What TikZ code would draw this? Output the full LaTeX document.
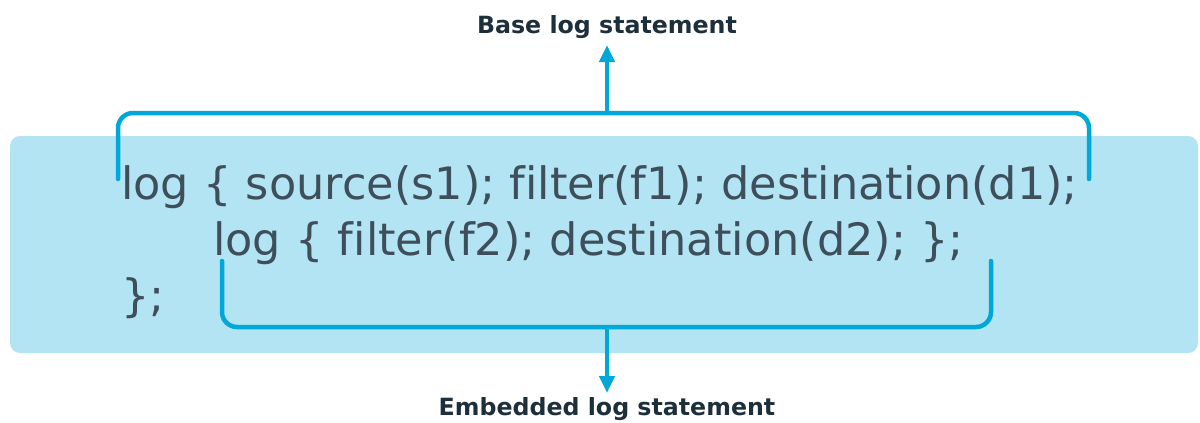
\documentclass[tikz,border=0pt]{standalone}
\usepackage{fontspec}
\setmainfont[Ligatures=NoCommon]{DejaVu Sans}
\usetikzlibrary{arrows.meta}
\definecolor{panelblue}{HTML}{B3E4F3}
\definecolor{bracketblue}{HTML}{00A8DA}
\definecolor{codegray}{HTML}{3E4F5B}
\definecolor{titledark}{HTML}{1E2F3C}
\tikzset{
  codeline/.style={anchor=base west, inner sep=0pt, text=codegray,
    font=\fontsize{44.6}{52}\selectfont},
  caption/.style={anchor=base, inner sep=0pt, text=titledark,
    font=\fontsize{23.7}{28}\selectfont\bfseries},
  bracket/.style={draw=bracketblue, line width=4.5pt, line cap=round,
    rounded corners=15pt},
  pointer/.style={draw=bracketblue, line width=4.5pt,
    -{Triangle[length=17pt, width=15pt]}},
}
\begin{document}
\begin{tikzpicture}[x=1pt, y=-1pt]
  \useasboundingbox (0,0) rectangle (1200,423);
  % code panel
  \fill[panelblue, rounded corners=10pt] (10,136) rectangle (1198,353);

  % code
  \node[codeline] (l1) at (121,199) {log \{ source(s1); filter(f1); destination(d1);};
  \node[codeline] (l2) at (213,255) {log \{ filter(f2); destination(d2); \};};
  \node[codeline] (l3) at (121,311) {\};};

  % captions
  \node[caption] (base) at (607,33) {Base log statement};
  \node[caption] (emb) at (607,415) {Embedded log statement};

  % outer bracket
  \coordinate (ob1) at (118,179);
  \coordinate (ob2) at (118,113);
  \coordinate (obm) at (607,113);
  \coordinate (ob3) at (1089,113);
  \coordinate (ob4) at (1089,179);
  \draw[bracket] (ob1) -- (ob2) -- (ob3) -- (ob4);
  \coordinate (basetip) at (607,45);
  \draw[pointer] (obm) -- (basetip);

  % inner bracket
  \coordinate (ib1) at (222,261);
  \coordinate (ib2) at (222,327);
  \coordinate (ibm) at (607,327);
  \coordinate (ib3) at (991,327);
  \coordinate (ib4) at (991,261);
  \draw[bracket] (ib1) -- (ib2) -- (ib3) -- (ib4);
  \coordinate (embtip) at (607,393);
  \draw[pointer] (ibm) -- (embtip);
\end{tikzpicture}
\end{document}
